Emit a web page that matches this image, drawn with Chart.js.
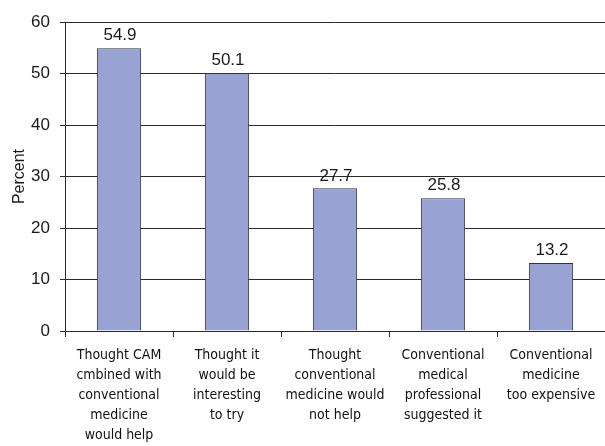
<!DOCTYPE html>
<html>
<head>
<meta charset="utf-8">
<script src="https://cdn.jsdelivr.net/npm/chart.js@4/dist/chart.umd.min.js"></script>
<style>
  html, body { margin: 0; padding: 0; background: #ffffff; }
  #wrap { width: 605px; height: 446px; }
</style>
</head>
<body>
<div id="wrap"><canvas id="c" width="605" height="446"></canvas></div>
<script>
// Reasons for using complementary and alternative medicine (CAM)
const categories = [
  ["Thought CAM", "cmbined with", "conventional", "medicine", "would help"],
  ["Thought it", "would be", "interesting", "to try"],
  ["Thought", "conventional", "medicine would", "not help"],
  ["Conventional", "medical", "professional", "suggested it"],
  ["Conventional", "medicine", "too expensive"]
];
const percentValues = [54.9, 50.1, 27.7, 25.8, 13.2];
const yTicks = [0, 10, 20, 30, 40, 50, 60];

const lineColor = '#2a2a2a';

// Writes each bar's value just above it
const valueLabels = {
  id: 'valueLabels',
  afterDatasetsDraw(chart) {
    const ctx = chart.ctx;
    const meta = chart.getDatasetMeta(0);
    ctx.save();
    ctx.font = '17px "Liberation Sans", Arial, sans-serif';
    ctx.fillStyle = '#1a1a1a';
    ctx.textAlign = 'center';
    ctx.textBaseline = 'bottom';
    meta.data.forEach((bar, i) => {
      ctx.fillText(percentValues[i].toFixed(1), bar.x + 1, bar.y - 4);
    });
    ctx.restore();
  }
};

new Chart(document.getElementById('c'), {
  type: 'bar',
  data: {
    labels: categories,
    datasets: [{
      data: percentValues,
      backgroundColor: '#99a3d3',
      borderColor: '#333333',
      borderWidth: 1,
      barPercentage: 0.41,
      categoryPercentage: 1.0
    }]
  },
  options: {
    responsive: false,
    animation: false,
    devicePixelRatio: 1,
    layout: { padding: { top: 22, right: 0, bottom: 0, left: 0 } },
    plugins: {
      legend: { display: false },
      tooltip: { enabled: false }
    },
    scales: {
      x: {
        grid: {
          display: true,
          offset: true,
          drawOnChartArea: false,
          drawTicks: true,
          tickLength: 6,
          color: lineColor,
          lineWidth: 1
        },
        border: { display: true, color: lineColor, width: 1 },
        ticks: {
          color: '#111111',
          padding: 8,
          maxRotation: 0,
          autoSkip: false,
          font: { family: '"DejaVu Sans Condensed", "Liberation Sans Narrow", sans-serif', size: 14, lineHeight: '20px' }
        },
        afterFit(scale) { scale.height = 115; }
      },
      y: {
        min: 0,
        max: 60,
        afterBuildTicks(scale) { scale.ticks = yTicks.map(v => ({ value: v })); },
        grid: {
          color: lineColor,
          lineWidth: 1,
          drawTicks: true,
          tickLength: 5
        },
        border: { display: true, color: lineColor, width: 1 },
        ticks: {
          color: '#1a1a1a',
          padding: 10,
          font: { family: '"Liberation Sans", Arial, sans-serif', size: 17 }
        },
        title: {
          display: true,
          text: 'Percent',
          color: '#1a1a1a',
          padding: { top: 10, bottom: 0 },
          font: { family: '"Liberation Sans", Arial, sans-serif', size: 16 }
        },
        afterFit(scale) { scale.width = 65; }
      }
    }
  },
  plugins: [valueLabels]
});
</script>
</body>
</html>
